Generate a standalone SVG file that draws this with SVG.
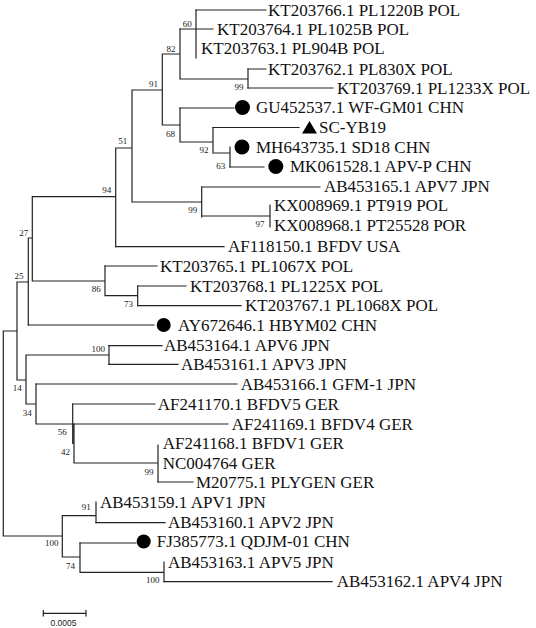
<svg xmlns="http://www.w3.org/2000/svg" width="536" height="628" viewBox="0 0 536 628">
<style>
.br{fill:none;stroke:#222;stroke-width:1.2;stroke-linecap:square}
.lf{font-family:"Liberation Serif","Times New Roman",serif;font-size:17px;fill:#111}
.bs{font-family:"Liberation Serif","Times New Roman",serif;font-size:9px;fill:#222;text-anchor:end}
.dot{fill:#000}
.sc{font-family:"Liberation Sans",Arial,sans-serif;font-size:8.5px;fill:#222;text-anchor:middle}
</style>
<rect width="536" height="628" fill="#fff"/>
<g id="connectors" class="br">
<path d="M196 10H266M180 29H213M248 69H266M248 88H333M180 108H234M213 127.5H299M230 167H264M201.7 187H320M115.7 246.7H224M105 266H157M137.7 286H186M137.7 305.7H241M28.3 325H154M109 345.7H162M109 364.3H178M36 384H237M72.7 404H155M74 424H228M158 482H193M96 522.7H165M80 543H136M164 581.7H332"/>
<path d="M196 10V58M180 29V79M180 79H248M248 69V88M162.3 54V125M162.3 54H180M162.3 125H180M180 108V142M180 142H213M213 127.5V153M213 153H230M230 147V167M132 90V202M132 90H162.3M132 202H201.7M201.7 187V217M201.7 216H270M270 205V227M115.7 148V246.7M115.7 148H132M32.3 196.7V281M32.3 196.7H115.7M32.3 281H105M105 266V295.7M105 295.7H137.7M137.7 286V305.7M28.3 238V325M28.3 238H32.3M17 282V380M17 282H28.3M17 380H26M26 355V404M26 355H109M109 345.7V364.3M26 404H36M36 384V424M36 424H72.7M72.7 404V443.5M72.7 443.5H74M74 424V463M74 463H158M158 445V482M3.3 331V536M3.3 331H17M3.3 536H62.3M62.3 515.7V557M62.3 515.7H96M96 502V522.7M62.3 557H80M80 543V572.3M80 572.3H164M164 562V581.7"/>
</g>
<g id="leaves">
<g id="leaf-KT203766"><text class="lf" x="268" y="15.6">KT203766.1 PL1220B POL</text></g>
<g id="leaf-KT203764"><text class="lf" x="217" y="34.6">KT203764.1 PL1025B POL</text></g>
<g id="leaf-KT203763"><text class="lf" x="201" y="53.6">KT203763.1 PL904B POL</text></g>
<g id="leaf-KT203762"><text class="lf" x="268" y="74.6">KT203762.1 PL830X POL</text></g>
<g id="leaf-KT203769"><text class="lf" x="337" y="93.6">KT203769.1 PL1233X POL</text></g>
<g id="leaf-GU452537"><circle class="dot" cx="242.5" cy="107.5" r="7.5"/><text class="lf" x="256" y="113.4">GU452537.1 WF-GM01 CHN</text></g>
<g id="leaf-SC-YB19"><polygon class="dot" points="302,133.5 317,133.5 309.5,121"/><text class="lf" x="319" y="133.2">SC-YB19</text></g>
<g id="leaf-MH643735"><circle class="dot" cx="242" cy="147" r="7.5"/><text class="lf" x="256" y="152.8">MH643735.1 SD18 CHN</text></g>
<g id="leaf-MK061528"><circle class="dot" cx="275.8" cy="166.5" r="7.5"/><text class="lf" x="290" y="172.3">MK061528.1 APV-P CHN</text></g>
<g id="leaf-AB453165"><text class="lf" x="324" y="191.8">AB453165.1 APV7 JPN</text></g>
<g id="leaf-KX008969"><text class="lf" x="274" y="210.8">KX008969.1 PT919 POL</text></g>
<g id="leaf-KX008968"><text class="lf" x="274" y="231.4">KX008968.1 PT25528 POR</text></g>
<g id="leaf-AF118150"><text class="lf" x="228" y="252">AF118150.1 BFDV USA</text></g>
<g id="leaf-KT203765"><text class="lf" x="160" y="271.6">KT203765.1 PL1067X POL</text></g>
<g id="leaf-KT203768"><text class="lf" x="190" y="291.6">KT203768.1 PL1225X POL</text></g>
<g id="leaf-KT203767"><text class="lf" x="245" y="311.2">KT203767.1 PL1068X POL</text></g>
<g id="leaf-AY672646"><circle class="dot" cx="163.7" cy="325" r="7"/><text class="lf" x="178" y="330.6">AY672646.1 HBYM02 CHN</text></g>
<g id="leaf-AB453164"><text class="lf" x="164" y="351.2">AB453164.1 APV6 JPN</text></g>
<g id="leaf-AB453161"><text class="lf" x="181" y="369.8">AB453161.1 APV3 JPN</text></g>
<g id="leaf-AB453166"><text class="lf" x="240.7" y="389.6">AB453166.1 GFM-1 JPN</text></g>
<g id="leaf-AF241170"><text class="lf" x="157.7" y="409.6">AF241170.1 BFDV5 GER</text></g>
<g id="leaf-AF241169"><text class="lf" x="231.7" y="429.6">AF241169.1 BFDV4 GER</text></g>
<g id="leaf-AF241168"><text class="lf" x="162.7" y="449.2">AF241168.1 BFDV1 GER</text></g>
<g id="leaf-NC004764"><text class="lf" x="162.7" y="468.8">NC004764 GER</text></g>
<g id="leaf-M20775"><text class="lf" x="196" y="487.6">M20775.1 PLYGEN GER</text></g>
<g id="leaf-AB453159"><text class="lf" x="100" y="507.6">AB453159.1 APV1 JPN</text></g>
<g id="leaf-AB453160"><text class="lf" x="168" y="528.2">AB453160.1 APV2 JPN</text></g>
<g id="leaf-FJ385773"><circle class="dot" cx="143.7" cy="541.5" r="7"/><text class="lf" x="156.7" y="547.4">FJ385773.1 QDJM-01 CHN</text></g>
<g id="leaf-AB453163"><text class="lf" x="168" y="567.6">AB453163.1 APV5 JPN</text></g>
<g id="leaf-AB453162"><text class="lf" x="336.7" y="587.2">AB453162.1 APV4 JPN</text></g>
</g>
<g id="internal-nodes">
<text class="bs" x="191.7" y="27">60</text>
<text class="bs" x="175.5" y="51.5">82</text>
<text class="bs" x="243.5" y="89.5">99</text>
<text class="bs" x="158" y="86.5">91</text>
<text class="bs" x="175" y="136.5">68</text>
<text class="bs" x="208.5" y="153.3">92</text>
<text class="bs" x="225.3" y="168.5">63</text>
<text class="bs" x="127.3" y="143.5">51</text>
<text class="bs" x="111.2" y="193">94</text>
<text class="bs" x="197.3" y="213">99</text>
<text class="bs" x="264.5" y="227">97</text>
<text class="bs" x="28.3" y="235.5">27</text>
<text class="bs" x="23.5" y="278.5">25</text>
<text class="bs" x="100.8" y="292">86</text>
<text class="bs" x="133" y="307">73</text>
<text class="bs" x="105" y="352">100</text>
<text class="bs" x="21.8" y="390.5">14</text>
<text class="bs" x="31.8" y="415.5">34</text>
<text class="bs" x="66.8" y="435">56</text>
<text class="bs" x="70" y="454.5">42</text>
<text class="bs" x="153.5" y="475">99</text>
<text class="bs" x="90.8" y="510">91</text>
<text class="bs" x="58.4" y="546">100</text>
<text class="bs" x="75" y="568.5">74</text>
<text class="bs" x="159.5" y="582.5">100</text>
</g>
<g id="scale-bar">
<path class="br" d="M43.3 613.3H86M43.3 610.5V616M86 610.5V616"/>
<text class="sc" x="63.5" y="626.3">0.0005</text>
</g>
</svg>
